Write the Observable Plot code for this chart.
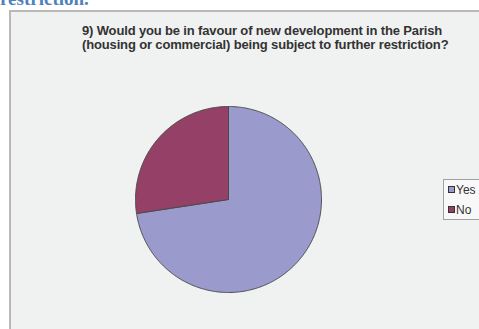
<!DOCTYPE html>
<html>
<head>
<meta charset="utf-8">
<script src="https://cdn.jsdelivr.net/npm/d3@7"></script>
<script src="https://cdn.jsdelivr.net/npm/@observablehq/plot@0.6"></script>
<style>
  html, body { margin: 0; padding: 0; background: #ffffff; width: 479px; height: 329px; overflow: hidden; }
  #page { position: relative; width: 479px; height: 329px; overflow: hidden; font-family: "Liberation Sans", Arial, sans-serif; }
  #heading { position: absolute; left: 0; top: -12px; font-family: "Liberation Serif", serif; font-weight: bold; font-size: 19px; color: #4f81bd; white-space: nowrap; }
  #box { position: absolute; left: 9px; top: 10px; width: 500px; height: 340px; background: #f0f1f1; border: 2px solid #b9b9b9; box-sizing: border-box; }
  #title { position: absolute; left: 82px; top: 24px; font-weight: bold; font-size: 13px; line-height: 14px; color: #333; white-space: nowrap; letter-spacing: -0.15px; }
  #chart { position: absolute; left: 0; top: 0; }
  #legend { position: absolute; left: 443px; top: 179px; width: 60px; height: 41px; border: 1px solid #a0a0a0; background: #f8f8f8; box-sizing: border-box; }
  .li { position: absolute; left: 4px; font-size: 12px; color: #333; line-height: 12px; }
  .sw { display: inline-block; width: 5px; height: 5px; border: 1px solid #333; margin-right: 1px; vertical-align: 1px; }
</style>
</head>
<body>
<div id="page">
  <div id="heading">restriction.</div>
  <div id="box"></div>
  <div id="title">9) Would you be in favour of new development in the Parish<br>(housing or commercial) being subject to further restriction?</div>
  <div id="chart"></div>
  <div id="legend"></div>
</div>
<script>
const categories = ["Yes", "No"];
const values = [72.6, 27.4];
const colors = ["#9a9acc", "#954067"];

// build slice outlines from the data (angles clockwise from 12 o'clock)
const arcs = d3.pie().sort(null)(values);
const points = [];
arcs.forEach((a, i) => {
  const cat = categories[i];
  points.push({cat, x: 0, y: 0});
  const n = Math.max(2, Math.ceil((a.endAngle - a.startAngle) / 0.01));
  for (let k = 0; k <= n; k++) {
    const t = a.startAngle + (a.endAngle - a.startAngle) * k / n;
    points.push({cat, x: Math.sin(t), y: Math.cos(t)});
  }
  points.push({cat, x: 0, y: 0});
});

const cx = 228, cy = 199, r = 93;
const plot = Plot.plot({
  width: 479,
  height: 329,
  margin: 0,
  style: {background: "transparent", overflow: "visible"},
  x: {domain: [-1, 1], range: [cx - r, cx + r], axis: null},
  y: {domain: [-1, 1], range: [cy + r, cy - r], axis: null},
  color: {domain: categories, range: colors},
  marks: [
    Plot.line(points, {x: "x", y: "y", z: "cat", fill: "cat", stroke: "#4a4a4a", strokeWidth: 1, strokeLinejoin: "round", curve: "linear"})
  ]
});
document.getElementById("chart").appendChild(plot);

const legend = document.getElementById("legend");
categories.forEach((c, i) => {
  const d = document.createElement("div");
  d.className = "li";
  d.style.top = (4 + i * 20) + "px";
  d.innerHTML = `<span class="sw" style="background:${colors[i]}"></span>${c}`;
  legend.appendChild(d);
});
</script>
</body>
</html>
